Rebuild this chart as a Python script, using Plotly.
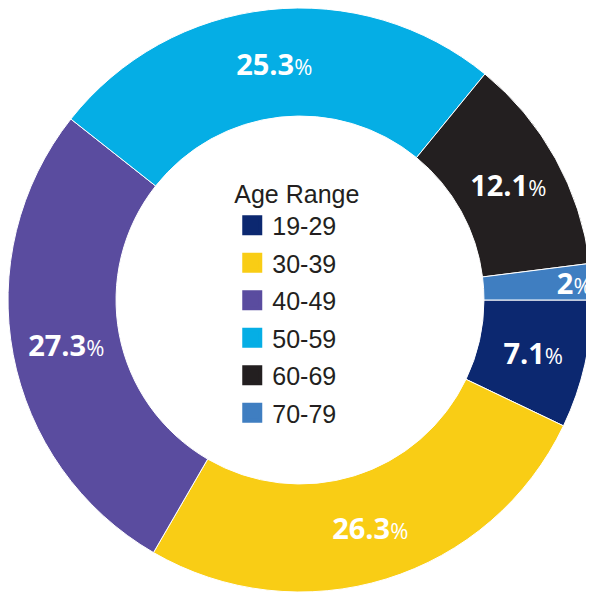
import plotly.graph_objects as go

categories = ["19-29", "30-39", "40-49", "50-59", "60-69", "70-79"]
values = [7.1, 26.3, 27.3, 25.3, 12.1, 2]
colors = ["#0C2870", "#F9CD15", "#5A4C9F", "#05AEE5", "#231F20", "#3F7EC1"]
legend_title = "Age Range"

fig = go.Figure()
fig.add_trace(go.Pie(
    labels=categories,
    values=values,
    sort=False,
    direction="clockwise",
    rotation=90,
    hole=0.63,
    marker=dict(colors=colors, line=dict(color="white", width=1)),
    texttemplate="<b>%{value}</b><span style='font-size:22px'>%</span>",
    textposition="inside",
    insidetextorientation="horizontal",
    insidetextfont=dict(family="Open Sans", size=29, color="white"),
    showlegend=False,
    hoverinfo="label+value",
))

# legend entries (one per category, drawn as square markers)
for cat, col in zip(categories, colors):
    fig.add_trace(go.Scatter(
        x=[None], y=[None], mode="markers", name=cat,
        legendgroup=cat,
        marker=dict(symbol="square", size=16, color=col, line=dict(color=col, width=4)),
        showlegend=True,
    ))

fig.update_layout(
    width=594, height=599,
    margin=dict(l=0, r=10, t=0, b=15),
    paper_bgcolor="white", plot_bgcolor="white",
    xaxis=dict(visible=False), yaxis=dict(visible=False),
    uniformtext=dict(minsize=29, mode="show"),
    showlegend=True,
    legend=dict(
        title=dict(text=legend_title, font=dict(family="Liberation Sans, Arial", size=25, color="#231F20")),
        font=dict(family="Liberation Sans, Arial", size=25, color="#231F20"),
        x=0.384, y=0.7226, xanchor="left", yanchor="top",
        bgcolor="rgba(0,0,0,0)",
        tracegroupgap=2,
        itemsizing="trace",
    ),
)

fig.write_html("out.html")
